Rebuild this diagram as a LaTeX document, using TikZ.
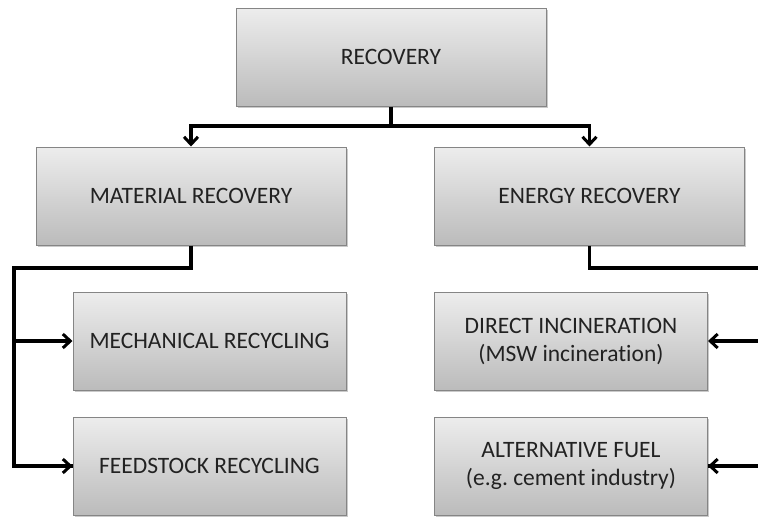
\documentclass[tikz,border=0pt]{standalone}
\usepackage{fontspec}
\setmainfont{Carlito}[Ligatures={NoCommon}]
\frenchspacing
\usetikzlibrary{arrows.meta,shadows,calc}
\definecolor{boxtop}{HTML}{EDEDED}
\definecolor{boxbot}{HTML}{BBBBBB}
\definecolor{boxline}{HTML}{858585}
\definecolor{ink}{HTML}{222222}
\tikzset{
  box/.style={draw=boxline, line width=1pt, top color=boxtop, bottom color=boxbot,
    drop shadow={shadow xshift=1.5pt, shadow yshift=-1.5pt, opacity=0.35, fill=black!60},
    align=center, text=ink, font=\fontsize{23.5}{28}\selectfont, inner sep=0pt},
  wide/.style={box, minimum width=310pt, minimum height=98pt},
  narrow/.style={box, minimum width=273pt, minimum height=98pt},
  link/.style={draw=black, line width=3.2pt},
  arr/.style={link, -{Straight Barb[length=7.5pt,width=14pt,line width=3pt]}}
}
\begin{document}
\begin{tikzpicture}[x=1pt,y=-1pt]
\useasboundingbox (0,0) rectangle (758,517);
\clip (0,0) rectangle (758,517);
% boxes
\node[wide]   (rec)  at (391,57)    {RECOVERY};
\node[wide]   (mat)  at (191,196)   {MATERIAL RECOVERY};
\node[wide]   (ene)  at (589.5,196) {ENERGY RECOVERY};
\node[narrow] (mech) at (209.5,341) {MECHANICAL RECYCLING};
\node[narrow] (feed) at (209.5,466) {FEEDSTOCK RECYCLING};
\node[narrow] (dir)  at (571,341)   {DIRECT INCINERATION\\(MSW incineration)};
\node[narrow] (alt)  at (571,466)   {ALTERNATIVE FUEL\\(e.g. cement industry)};
% junction points
\coordinate (top) at (391,126);
\coordinate (lj) at (191,268);
\coordinate (lbus) at (14,268);
\coordinate (rbus) at (770,268);
% top level split
\draw[link] (rec.south) -- (top);
\draw[arr] (top) -| (mat.north);
\draw[arr] (top) -| (ene.north);
% material branch
\draw[link] (mat.south) -- (lj) -- (lbus) |- (feed.west);
\draw[arr] (lbus |- feed.west) -- (feed.west);
\draw[arr] (lbus |- mech.west) -- (mech.west);
% energy branch
\draw[link] (ene.south) |- (rbus) |- (alt.east);
\draw[arr] (rbus |- dir.east) -- (dir.east);
\draw[arr] (rbus |- alt.east) -- (alt.east);
\end{tikzpicture}
\end{document}
